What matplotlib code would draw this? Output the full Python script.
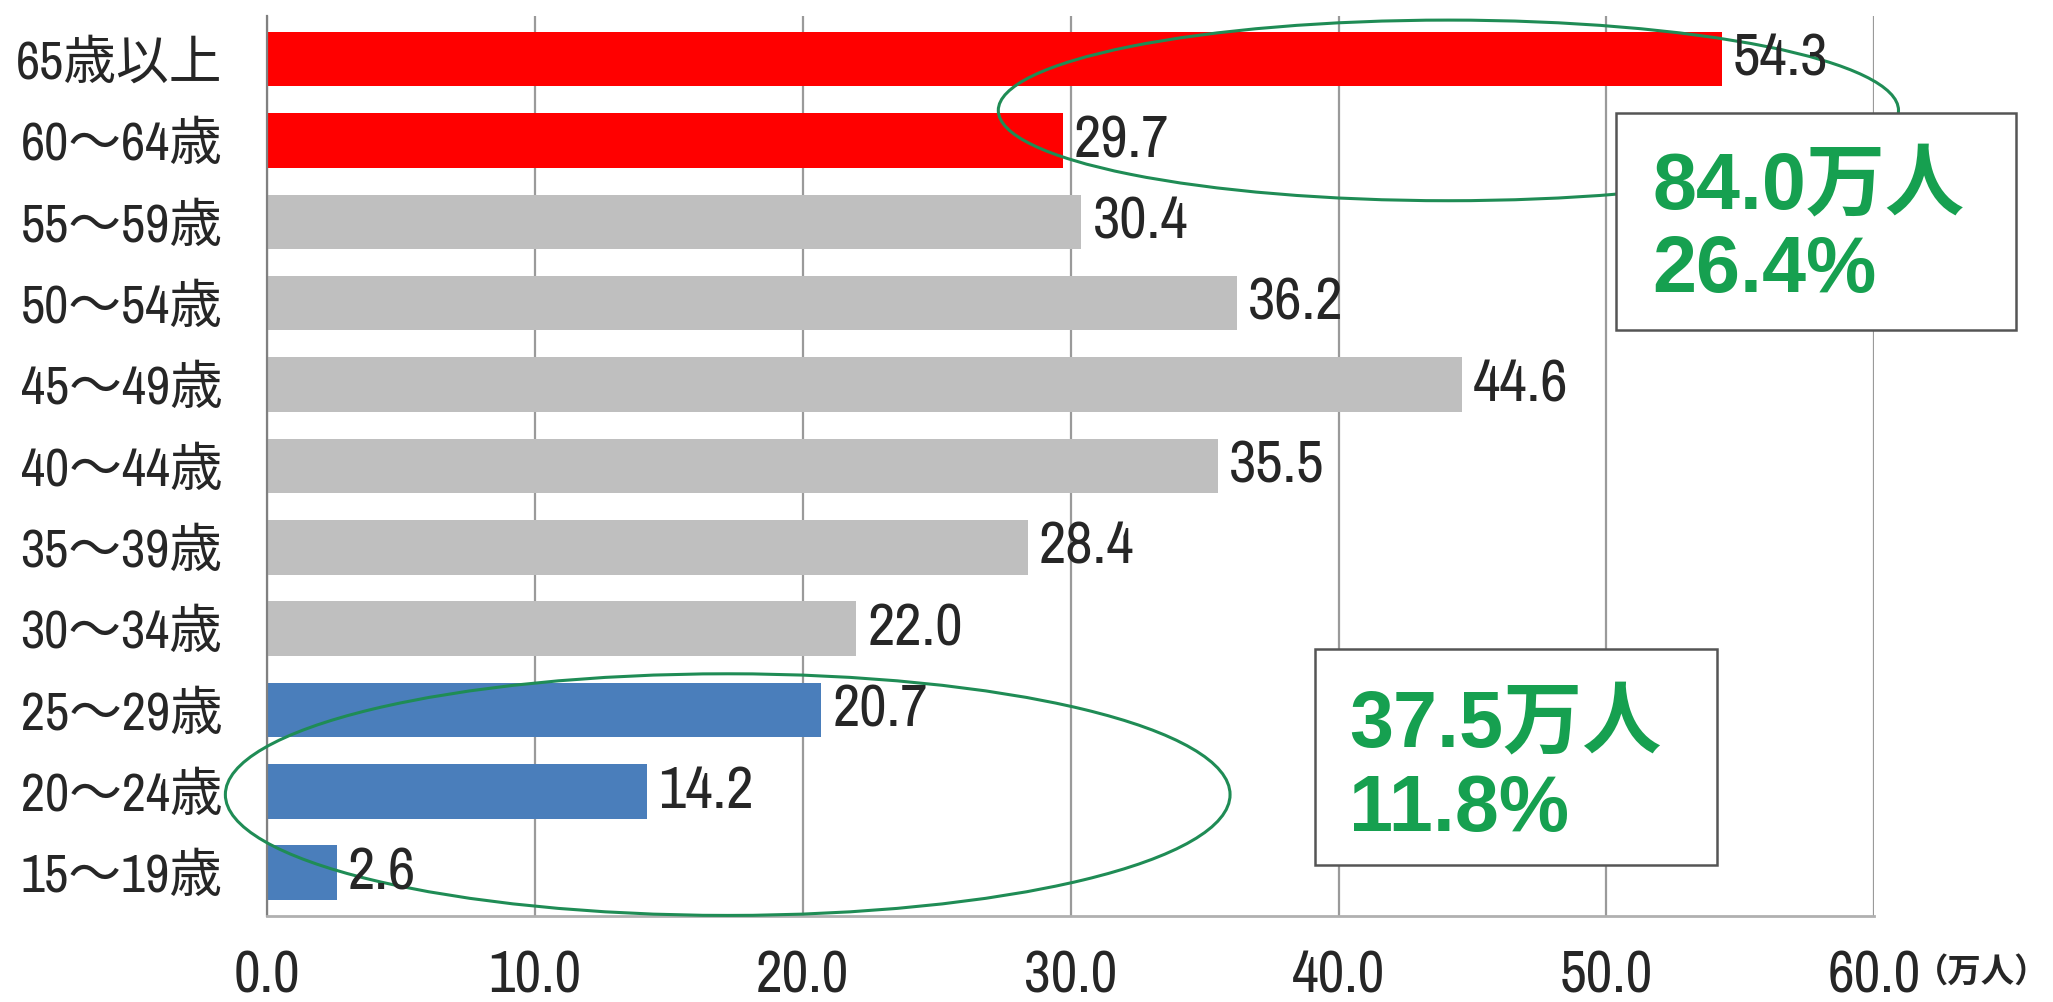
import matplotlib
matplotlib.use("Agg")
import matplotlib.pyplot as plt
from matplotlib.patches import Ellipse, Rectangle
from matplotlib.transforms import blended_transform_factory
import numpy as np

# Age groups (top to bottom) and counts in 10,000 persons
age_groups = ["65歳以上", "60～64歳", "55～59歳", "50～54歳", "45～49歳", "40～44歳",
              "35～39歳", "30～34歳", "25～29歳", "20～24歳", "15～19歳"]
counts = [54.3, 29.7, 30.4, 36.2, 44.6, 35.5, 28.4, 22.0, 20.7, 14.2, 2.6]
group_kind = ["senior", "senior", "mid", "mid", "mid", "mid", "mid", "mid", "young", "young", "young"]
x_ticks = [0, 10, 20, 30, 40, 50, 60]
x_tick_labels = ["0.0", "10.0", "20.0", "30.0", "40.0", "50.0", "60.0"]
senior_summary = ["84.0万人", "26.4%"]
young_summary = ["37.5万人", "11.8%"]

kind_colors = {"senior": "#ff0000", "mid": "#bfbfbf", "young": "#4a7ebb"}
green = "#16a050"
ring_green = "#1f8c55"
ink = "#262626"

narrow = ["Archivo Narrow", "Noto Sans CJK JP", "DejaVu Sans"]
bold_fam = ["Liberation Sans", "Noto Sans CJK JP", "DejaVu Sans"]
plt.rcParams["font.family"] = narrow

fig = plt.figure(figsize=(20.53, 10.02), dpi=100)
ax = fig.add_axes([0.130, 0.086, 0.783, 0.898])

y = np.arange(len(age_groups))
colors = [kind_colors[k] for k in group_kind]
ax.barh(y, counts, height=0.67, color=colors, zorder=2)

for yi, v in zip(y, counts):
    ax.annotate(f"{v:.1f}", xy=(v, yi), xytext=(8, 0), textcoords="offset points",
                va="center", ha="left", fontsize=43, color=ink, zorder=6)

ax.set_xlim(0, 60)
ax.set_ylim(10.53, -0.53)
ax.set_xticks(x_ticks)
ax.set_xticklabels(x_tick_labels, fontsize=42, color=ink)
ax.set_yticks(y)
ax.set_yticklabels(age_groups, fontsize=38, color=ink)
ax.tick_params(axis="x", length=0, pad=24)
ax.tick_params(axis="y", length=0, pad=32)

ax.grid(axis="x", color="#9a9a9a", linewidth=1.6, zorder=0)
ax.set_axisbelow(True)
for side in ("top", "right"):
    ax.spines[side].set_visible(False)
ax.spines["left"].set_color("#808080")
ax.spines["left"].set_linewidth(1.6)
ax.spines["bottom"].set_color("#b0b0b0")
ax.spines["bottom"].set_linewidth(2.0)

# Rings around the oldest and youngest groups
ax.add_patch(Ellipse((44.1, 0.63), 33.6, 2.22, fill=False, edgecolor=ring_green,
                     linewidth=2.2, zorder=4, clip_on=False))
ax.add_patch(Ellipse((17.2, 9.04), 37.5, 2.97, fill=False, edgecolor=ring_green,
                     linewidth=2.2, zorder=4, clip_on=False))

# Summary boxes
ax.add_patch(Rectangle((50.37, 0.66), 14.93, 2.67, facecolor="white", edgecolor="#555555",
                       linewidth=1.8, zorder=5, clip_on=False))
ax.add_patch(Rectangle((39.11, 7.25), 15.0, 2.66, facecolor="white", edgecolor="#555555",
                       linewidth=1.8, zorder=5, clip_on=False))

for (x0, y0, lines) in [(51.7, 1.58, senior_summary), (40.4, 8.2, young_summary)]:
    for k, line in enumerate(lines):
        ax.text(x0, y0 + 1.03 * k, line, fontsize=57, fontweight="bold", color=green,
                family=bold_fam, ha="left", va="center", zorder=7, clip_on=False)

# Unit label beside the last tick
trans = blended_transform_factory(ax.transData, ax.transAxes)
ax.text(61.5, -0.063, "（万人）", transform=trans, fontsize=24, fontweight="bold",
        family=["Noto Sans CJK JP", "DejaVu Sans"], ha="left", va="center", color=ink)

fig.savefig("out.png", dpi=100)
